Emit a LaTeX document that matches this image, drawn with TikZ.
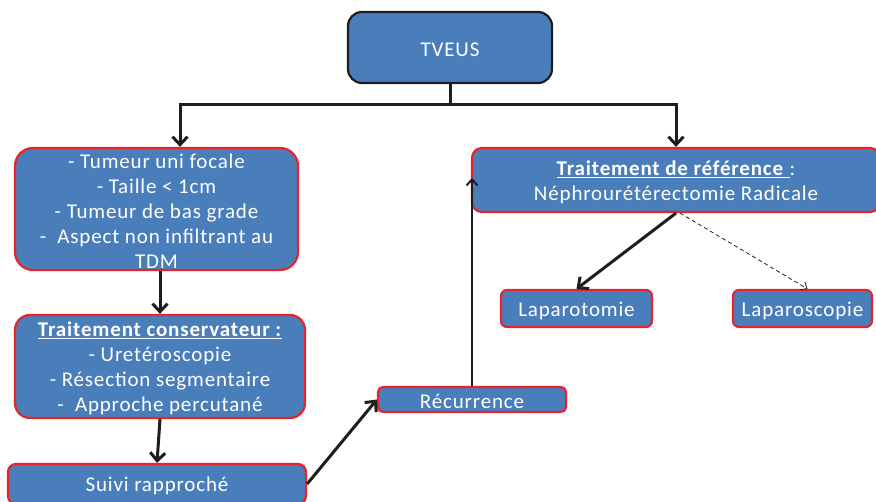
\documentclass[tikz,border=0pt]{standalone}
\usepackage{fontspec}
\setmainfont[LetterSpace=4]{Carlito}
\usetikzlibrary{arrows.meta,calc}
\definecolor{boxblue}{HTML}{4A7EBB}
\definecolor{boxred}{HTML}{E8232A}
\definecolor{lineblack}{HTML}{1E1E1E}
\tikzset{
  box/.style={draw=boxred, line width=2.2pt, fill=boxblue, inner sep=0pt, rounded corners=#1},
  box/.default=6pt,
  txt/.style={text=white, align=center, inner sep=0pt, yshift=-2pt, font=\fontsize{21}{25}\selectfont},
  conn/.style={draw=lineblack, line width=3pt, -{Straight Barb[length=8pt,width=15pt,line width=3pt]}},
  plain/.style={draw=lineblack, line width=3pt},
  thinconn/.style={draw=lineblack, line width=2pt, -{Straight Barb[length=6pt,width=11pt,line width=2pt]}},
  dashconn/.style={draw=lineblack, line width=0.8pt, dashed, dash pattern=on 4pt off 3pt, -{Straight Barb[length=5pt,width=9pt]}}
}
\begin{document}
\begin{tikzpicture}[x=1pt,y=-1pt]
\useasboundingbox (0,0) rectangle (876,502);
\node[box=14pt, draw=lineblack, minimum width=204pt, minimum height=71pt,
  label={[txt]center:TVEUS}] (tv) at (450,47.5) {};
\node[box=18pt, minimum width=283pt, minimum height=122pt,
  label={[txt]center:{- Tumeur uni focale\\- Taille < 1cm\\- Tumeur de bas grade\\-\ \ Aspect non infiltrant au\\TDM}}] (b1) at (156.5,209) {};
\node[box=15pt, minimum width=290pt, minimum height=103pt,
  label={[txt]center:{\underline{\textbf{Traitement conservateur :}}\\- Uretéroscopie\\- Résection segmentaire\\-\ \ Approche percutané}}] (b2) at (160,366.5) {};
\node[box=8pt, minimum width=298pt, minimum height=40pt,
  label={[txt]center:Suivi rapproché}] (b3) at (157,484) {};
\node[box=5pt, minimum width=188pt, minimum height=25pt,
  label={[txt]center:Récurrence}] (rec) at (472,399.5) {};
\node[box=10pt, minimum width=408pt, minimum height=64pt,
  label={[txt]center:{\underline{\textbf{Traitement de référence }}:\\Néphrourétérectomie Radicale}}] (tref) at (676,180) {};
\node[box=6pt, minimum width=151pt, minimum height=37pt,
  label={[txt]center:Laparotomie}] (lapt) at (576.5,308.5) {};
\node[box=6pt, minimum width=139pt, minimum height=37pt,
  label={[txt]center:Laparoscopie}] (lapc) at (802.5,308.5) {};
\coordinate (hl) at (180,105);
\coordinate (hr) at (676,105);
\draw[plain] (tv.south) -- (tv.south |- hl);
\draw[plain] ([xshift=-1.5pt]hl) -- ([xshift=1.5pt]hr);
\draw[conn] (hl) -- (hl |- b1.north);
\draw[conn] (hr) -- (tref.north);
\draw[conn] (b1.south -| b2.north) -- (b2.north);
\draw[conn] (b2.south) -- (b3.north);
\draw[conn] (b3.east) -- (rec.west);
\draw[thinconn] (rec.north) -- ([yshift=2pt]rec.north |- tref.west);
\draw[conn] (tref.south) -- (lapt.north);
\draw[dashconn] ($(tref.south)+(4,0)$) -- ($(lapc.north)+(5,0)$);
\end{tikzpicture}
\end{document}
